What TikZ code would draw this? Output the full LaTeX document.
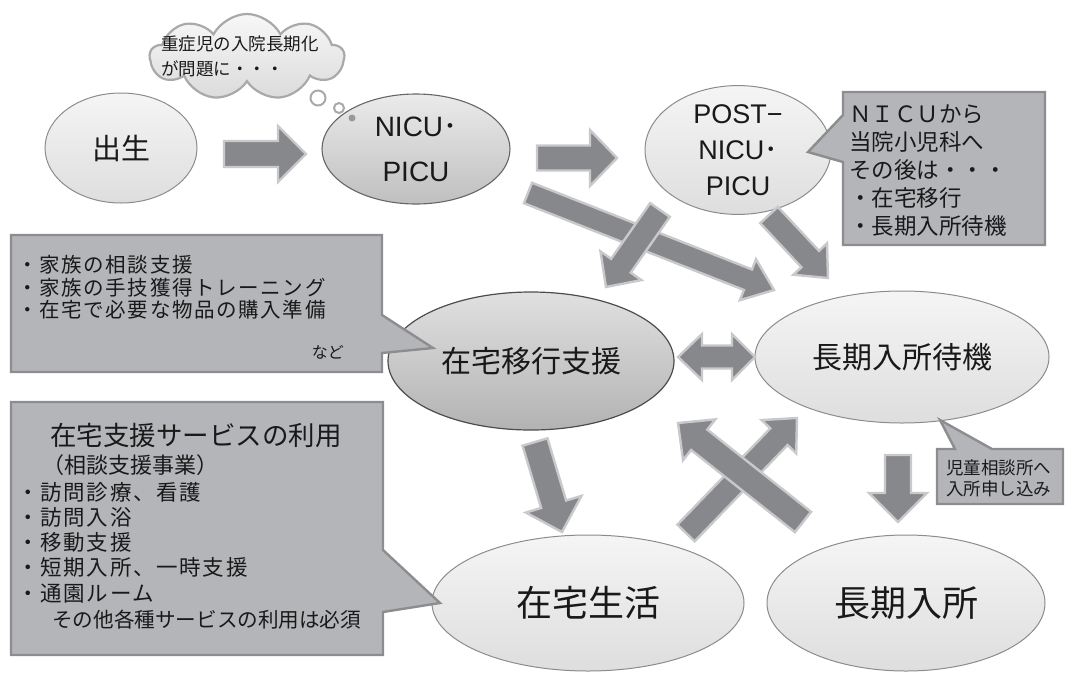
\documentclass[tikz,border=0pt]{standalone}
\usepackage{fontspec}
\setmainfont{Noto Sans CJK JP}
\newfontfamily\lat{Liberation Sans}
\newfontfamily\jsp[LetterSpace=8]{Noto Sans CJK JP}
\usetikzlibrary{shapes.geometric,shapes.symbols,calc}
\definecolor{arrowgray}{HTML}{87888C}
\definecolor{arrowedge}{HTML}{C9C9CB}
\definecolor{callfill}{HTML}{B4B5B9}
\definecolor{calledge}{HTML}{8D8D90}
\definecolor{cloudedge}{HTML}{A9A9AB}
\newcommand\blockarrow[5]{%
  \coordinate (ba-b) at ($(#2)!#5!(#1)$);
  \draw[barrowst] ($(#1)!#3!90:(#2)$) -- ($(ba-b)!#3!90:(#2)$) -- ($(ba-b)!#4!90:(#2)$)
    -- (#2) -- ($(ba-b)!#4!-90:(#2)$) -- ($(ba-b)!#3!-90:(#2)$) -- ($(#1)!#3!-90:(#2)$) -- cycle;}
\tikzset{
  ell/.style={ellipse, inner sep=0pt, text=black!90},
  ellL/.style={ell, draw=black!45, line width=1pt, top color=white!96!black, bottom color=black!13},
  ellM/.style={ell, draw=black!60, line width=1.1pt, top color=black!8, bottom color=black!25},
  ellD/.style={ell, draw=black!70, line width=1.2pt, top color=black!12, bottom color=black!30},
  barrowst/.style={fill=arrowgray, draw=arrowedge, line width=2.4pt, line join=miter},
  callst/.style={fill=callfill, draw=calledge, line width=2.4pt, line join=miter},
  ctext/.style={inner sep=0pt, text=black!90, align=left},
}
\begin{document}
\begin{tikzpicture}[x=1pt,y=-1pt]
\useasboundingbox (0,0) rectangle (1066,673);
% cloud
\node[cloud, cloud puffs=9, cloud puff arc=125, aspect=2.1, minimum width=194pt, minimum height=86pt,
  draw=cloudedge, line width=2.2pt, top color=white!97!black, bottom color=black!14] (cloud) at (247,57) {};
\node[ctext, anchor=west, font=\fontsize{17.5}{25}\selectfont] (cloudt) at (161,56) {重症児の入院長期化\\が問題に・・・};
% ellipses
\node[ellL, minimum width=152pt, minimum height=110pt, font=\fontsize{29}{29}\selectfont] (birth) at (121,148) {出生};
\node[ellM, minimum width=188pt, minimum height=110pt, align=center, font=\lat\fontsize{28}{45}\selectfont] (nicu) at (416,149) {NICU{\rmfamily ･}\\PICU};
\node[ellL, minimum width=186pt, minimum height=108pt, align=center, font=\lat\fontsize{27}{36}\selectfont] (post) at (738,150) {POST−\\NICU{\rmfamily ･}\\PICU};
\node[ellD, minimum width=286pt, minimum height=138pt, font=\fontsize{30}{30}\selectfont] (ikou) at (531,361) {在宅移行支援};
\node[ellL, minimum width=294pt, minimum height=132pt, font=\fontsize{30}{30}\selectfont] (taiki) at (902,357) {長期入所待機};
\node[ellL, minimum width=312pt, minimum height=136pt, font=\fontsize{36}{36}\selectfont] (seikatsu) at (588,603) {在宅生活};
\node[ellL, minimum width=278pt, minimum height=136pt, font=\fontsize{36}{36}\selectfont] (nyusho) at (906,603) {長期入所};
% thought bubbles
\draw[cloudedge, line width=2pt, fill=white] (318,98) circle (7.5);
\draw[cloudedge, line width=2pt, fill=white] (339,108) circle (5);
\fill[black!40] (352,118) circle (3.5);
% arrow end points
\coordinate (a1s) at (224,154); \coordinate (a1e) at (306,154);
\coordinate (a2s) at (537,158); \coordinate (a2e) at (617,158);
\coordinate (a3s) at (528,193); \coordinate (a3e) at (774,290);
\coordinate (a4s) at (660,210); \coordinate (a4e) at (606,287);
\coordinate (a5s) at (769,215); \coordinate (a5e) at (828,278);
\coordinate (a7s) at (535,442); \coordinate (a7e) at (562,532);
\coordinate (a8s) at (686,533); \coordinate (a8e) at (797,418);
\coordinate (a9s) at (803,522); \coordinate (a9e) at (678,423);
\coordinate (a10s) at (898,455); \coordinate (a10e) at (898,522);
\coordinate (dl) at (678,357); \coordinate (dr) at (755,357);
\blockarrow{a1s}{a1e}{13pt}{28pt}{28pt}
\blockarrow{a2s}{a2e}{12.5pt}{28pt}{27pt}
\blockarrow{a3s}{a3e}{11pt}{22pt}{28pt}
\blockarrow{a4s}{a4e}{12pt}{25pt}{26pt}
\blockarrow{a5s}{a5e}{12pt}{23pt}{26pt}
\blockarrow{a7s}{a7e}{13pt}{29pt}{29pt}
\blockarrow{a8s}{a8e}{12pt}{24pt}{26pt}
\blockarrow{a9s}{a9e}{13pt}{26pt}{27pt}
\blockarrow{a10s}{a10e}{13pt}{29pt}{29pt}
\draw[barrowst] (dl) -- ($(dl)+(24,-23)$) -- ($(dl)+(24,-11.5)$) -- ($(dr)+(-23,-11.5)$) -- ($(dr)+(-23,-23)$)
  -- (dr) -- ($(dr)+(-23,23)$) -- ($(dr)+(-23,11.5)$) -- ($(dl)+(24,11.5)$) -- ($(dl)+(24,23)$) -- cycle;
% callouts
\draw[callst] (843,92) -- (1045,92) -- (1045,245) -- (843,245) -- (843,162) -- (808,152) -- (843,115) -- cycle;
\node[ctext, anchor=west, font=\fontsize{22.5}{28}\selectfont] (c1) at (849,171)
  {ＮＩＣＵから\\当院小児科へ\\その後は・・・\\・在宅移行\\・長期入所待機};
\draw[callst] (11,235) -- (382,235) -- (382,315) -- (433,348) -- (382,353) -- (382,372) -- (11,372) -- cycle;
\node[ctext, anchor=west, font=\jsp\fontsize{20.5}{22.6}\selectfont] (c2) at (17,287.5)
  {・家族の相談支援\\・家族の手技獲得トレーニング\\・在宅で必要な物品の購入準備};
\node[ctext, anchor=east, font=\fontsize{16}{16}\selectfont] (c2b) at (344,352) {など};
\draw[callst] (11,402) -- (383,402) -- (383,550) -- (440,603) -- (383,612) -- (383,655) -- (11,655) -- cycle;
\node[ctext, font=\fontsize{26.5}{26.5}\selectfont] (c3a) at (196,435) {在宅支援サービスの利用};
\node[ctext, anchor=west, font=\fontsize{22}{22}\selectfont] (c3b) at (42,465) {（相談支援事業）};
\node[ctext, anchor=west, font=\jsp\fontsize{21.5}{25.2}\selectfont] (c3c) at (17,542.5)
  {・訪問診療、看護\\・訪問入浴\\・移動支援\\・短期入所、一時支援\\・通園ルーム};
\node[ctext, anchor=west, font=\fontsize{20.6}{20.6}\selectfont] (c3d) at (52,620) {その他各種サービスの利用は必須};
\draw[callst] (937,449) -- (955,449) -- (940,420) -- (992,449) -- (1063,449) -- (1063,504) -- (937,504) -- cycle;
\node[ctext, anchor=west, font=\fontsize{17.5}{21}\selectfont] (c4) at (946,478.5) {児童相談所へ\\入所申し込み};
\end{tikzpicture}
\end{document}
